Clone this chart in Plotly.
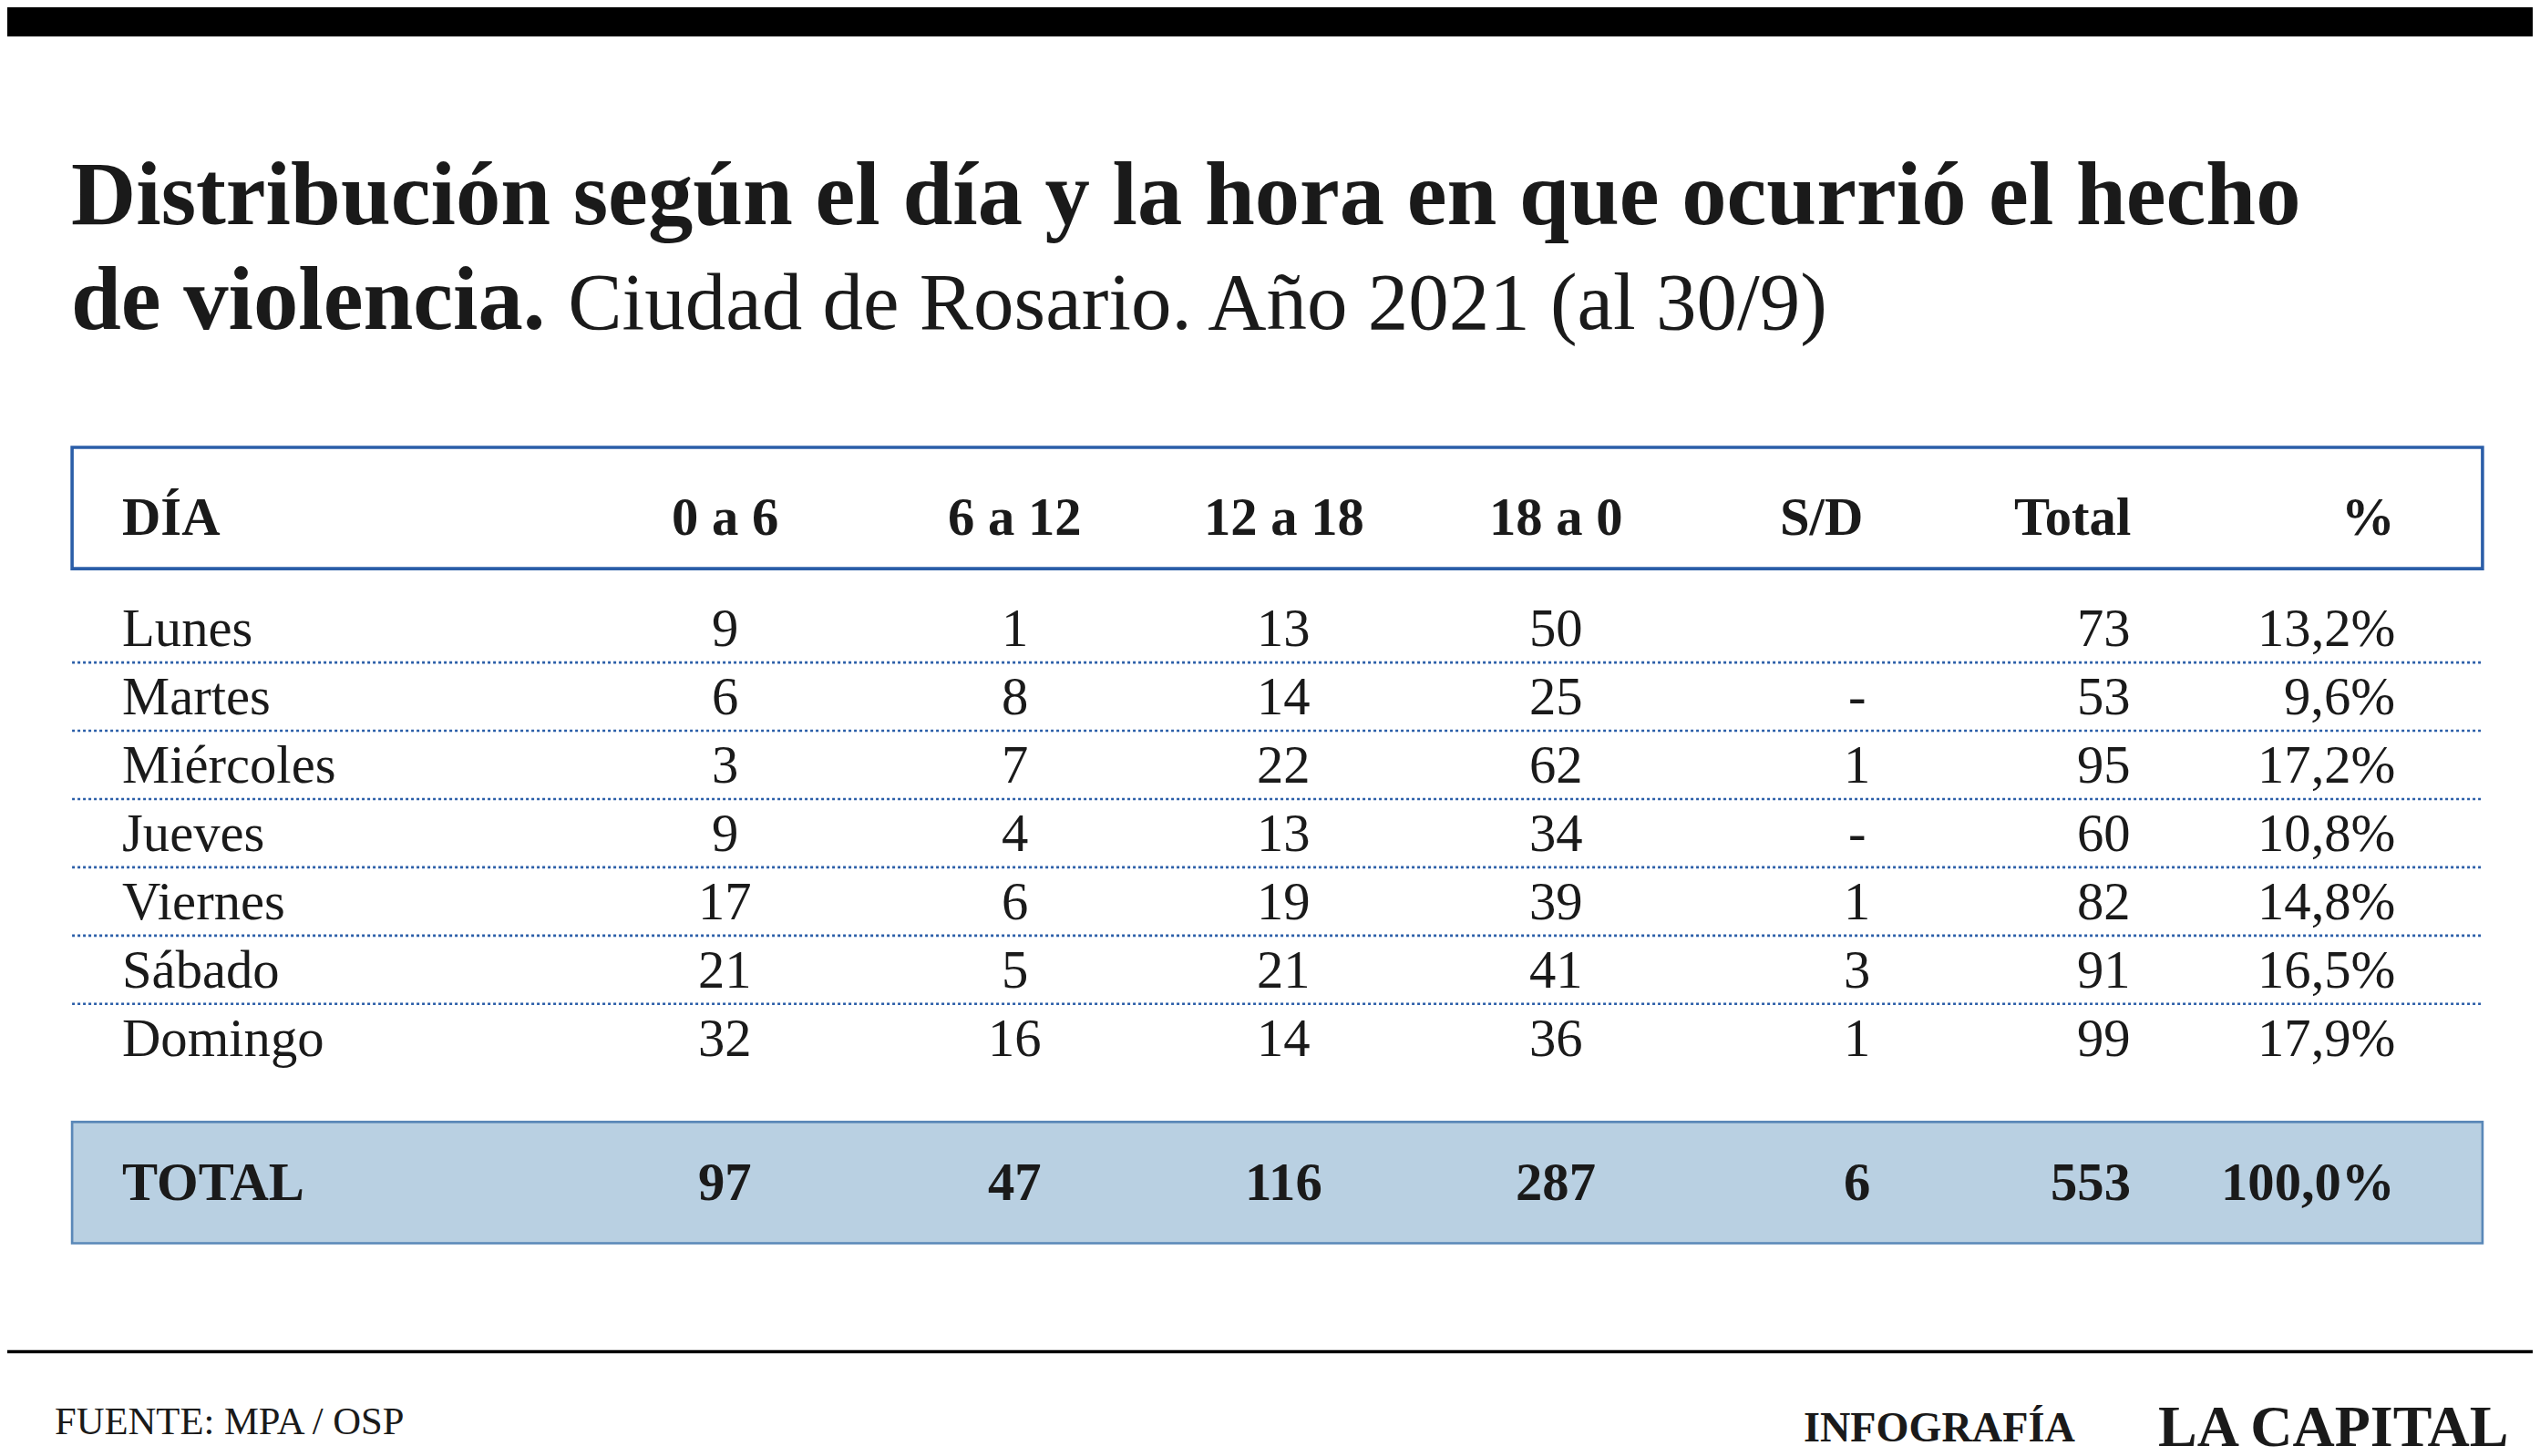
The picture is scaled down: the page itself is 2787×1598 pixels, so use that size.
"""Static table graphic: violence events by weekday and time slot (Rosario, 2021)."""

from __future__ import annotations

import plotly.graph_objects as go

S = 2787 / 1568  # design units -> screen pixels

# weekday -> (0 a 6, 6 a 12, 12 a 18, 18 a 0, S/D, Total, %)
_ROWS = {
    "Lunes": ("9", "1", "13", "50", "", "73", "13,2%"),
    "Martes": ("6", "8", "14", "25", "-", "53", "9,6%"),
    "Miércoles": ("3", "7", "22", "62", "1", "95", "17,2%"),
    "Jueves": ("9", "4", "13", "34", "-", "60", "10,8%"),
    "Viernes": ("17", "6", "19", "39", "1", "82", "14,8%"),
    "Sábado": ("21", "5", "21", "41", "3", "91", "16,5%"),
    "Domingo": ("32", "16", "14", "36", "1", "99", "17,9%"),
}
_TOTAL = ("97", "47", "116", "287", "6", "553", "100,0%")
_HEADERS = ("0 a 6", "6 a 12", "12 a 18", "18 a 0", "S/D", "Total", "%")

# column anchor x and alignment
_COLS = [(443, "center"), (622, "center"), (788, "center"), (956, "center"),
         (1142, "center"), (1312, "right"), (1475, "right")]
_HEAD_COLS = [(443, "center"), (622, "center"), (788, "center"), (956, "center"),
              (1120, "center"), (1312, "right"), (1475, "right")]

FONT = "Liberation Serif"
BLUE = "#2b5ea8"


def _text(fig, x, y, s, size, align="left", bold=False, color="#1a1a1a", font=FONT):
    anchor = {"left": "left", "center": "center", "right": "right"}[align]
    fig.add_annotation(
        x=x, y=y, text=f"<b>{s}</b>" if bold else s, showarrow=False,
        xanchor=anchor, yanchor="middle", xref="x", yref="y",
        font=dict(family=font, size=size * S, color=color),
    )


def plot_table():
    """Build the table figure in a 1568x900 design coordinate system."""
    fig = go.Figure()
    fig.add_trace(go.Scatter(x=[0, 1568], y=[0, 900], mode="markers",
                             marker=dict(opacity=0), showlegend=False, hoverinfo="skip"))

    fig.add_shape(type="rect", x0=0, x1=1568, y0=0, y1=18, fillcolor="black", line_width=0)
    _text(fig, 38, 115, "Distribución según el día y la hora en que ocurrió el hecho", 55.5, bold=True)
    _text(fig, 38, 180, "<b>de violencia.</b> <span style='font-size:%dpx'>Ciudad de Rosario. Año 2021 (al 30/9)</span>"
          % round(50 * S), 55.5)

    # header box
    fig.add_shape(type="rect", x0=40, x1=1528, y0=272, y1=347, line=dict(color=BLUE, width=2 * S))
    _text(fig, 70, 315, "DÍA", 33, bold=True)
    for (x, al), h in zip(_HEAD_COLS, _HEADERS):
        _text(fig, x, 315, h, 33, align=al, bold=True)

    # body rows
    y = 384
    for i, (day, vals) in enumerate(_ROWS.items()):
        _text(fig, 70, y, day, 33)
        for (x, al), v in zip(_COLS, vals):
            _text(fig, x, y, v, 33, align=al)
        if i < len(_ROWS) - 1:
            fig.add_shape(type="line", x0=40, x1=1528, y0=y + 21, y1=y + 21,
                          line=dict(color=BLUE, width=1.5 * S, dash="dot"))
        y += 42.2

    # total row
    fig.add_shape(type="rect", x0=40, x1=1528, y0=689, y1=764, fillcolor="#b9d0e2",
                  line=dict(color="#5a88b8", width=1.5 * S), layer="below")
    _text(fig, 70, 726, "TOTAL", 33, bold=True)
    for (x, al), v in zip(_COLS, _TOTAL):
        _text(fig, x, 726, v, 33, align=al, bold=True)

    # footer
    fig.add_shape(type="line", x0=0, x1=1568, y0=831, y1=831, line=dict(color="black", width=2 * S))
    _text(fig, 28, 874, "FUENTE: MPA / OSP", 24)
    _text(fig, 1108, 878, "INFOGRAFÍA", 26, bold=True)
    _text(fig, 1545, 877, "LA CAPITAL", 36, align="right", bold=True)

    fig.update_layout(
        width=2787, height=1598, margin=dict(l=0, r=0, t=0, b=0),
        plot_bgcolor="white", paper_bgcolor="white",
        xaxis=dict(range=[0, 1568], visible=False, fixedrange=True),
        yaxis=dict(range=[900, 0], visible=False, fixedrange=True),
    )
    return fig


fig = plot_table()
fig.write_html("out.html")
